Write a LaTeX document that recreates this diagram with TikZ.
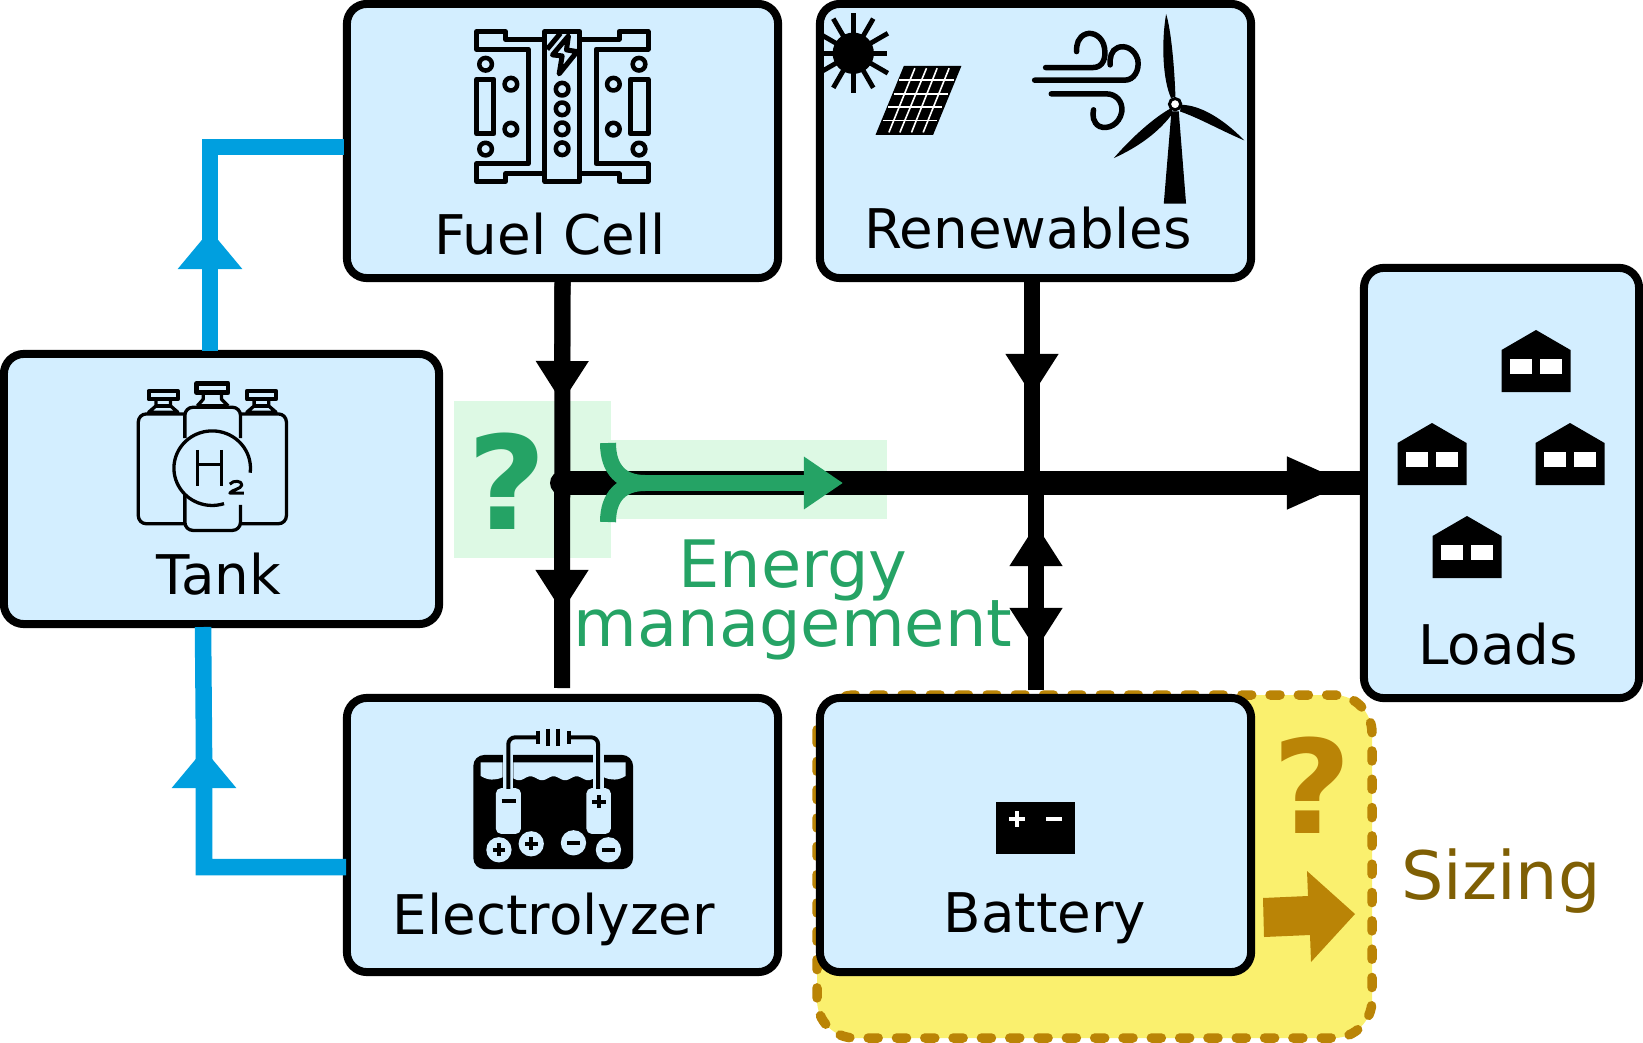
\documentclass[tikz,border=0pt]{standalone}
\usepackage{fontspec}
\setmainfont{DejaVu Sans}
\usetikzlibrary{arrows.meta}
\definecolor{boxblue}{HTML}{D3EEFF}
\definecolor{pipeblue}{HTML}{009FDF}
\definecolor{mgmtgreen}{HTML}{25A365}
\definecolor{mgmtlight}{HTML}{DDF9E4}
\definecolor{sizeyellow}{HTML}{FAF06E}
\definecolor{sizegold}{HTML}{BA8406}
\definecolor{sizebrown}{HTML}{7F5F04}
\tikzset{
    unit/.style={draw=black, line width=0.08cm, fill=boxblue, rounded corners=0.2cm, inner sep=0pt, minimum width=4.31cm, minimum height=2.74cm},
    name label/.style={anchor=base, inner sep=0pt, font=\fontsize{15.55}{17}\selectfont},
    big label/.style={inner sep=0pt, align=center, font=\fontsize{18.6}{17}\selectfont},
    quest/.style={anchor=base, inner sep=0pt, xscale=1.05, font=\fontsize{37}{38}\selectfont\bfseries},
    power/.style={draw=black, line width=0.16cm},
    bus/.style={draw=black, line width=0.24cm},
    pipe/.style={draw=pipeblue, line width=0.165cm},
    power tip/.style={-{Triangle[length=0.42cm, width=0.5cm]}},
    pipe tip/.style={-{Triangle[length=0.39cm, width=0.62cm]}}
}
\begin{document}
\begin{tikzpicture}[x=0.01cm, y=-0.01cm]
    \useasboundingbox (0, 0) rectangle (1643, 1043);

    % Highlights
    \fill[mgmtlight] (454, 401) rectangle (611, 558);
    \fill[mgmtlight] (611, 440) rectangle (887, 519);
    \draw[fill=sizeyellow, draw=sizegold, line width=0.095cm, line cap=round, dash pattern=on 0.1cm off 0.183cm, rounded corners=0.38cm] (817, 695) rectangle (1372, 1038);

    % Units
    \node[unit] (fuelcell) at (562.5, 141) {};
    \node[unit] (renewables) at (1035.5, 141) {};
    \node[unit, minimum width=4.35cm, minimum height=2.7cm] (tank) at (221.5, 489) {};
    \node[unit] (electrolyzer) at (562.5, 835) {};
    \node[unit] (battery) at (1035.5, 835) {};
    \node[unit, minimum width=2.75cm, minimum height=4.3cm] (loads) at (1501.5, 483) {};

    % Free ends of the connectors
    \coordinate (busstart) at (562, 483);
    \coordinate (bustip) at (1349, 483);
    \coordinate (fctip) at (562, 403);
    \coordinate (eltip) at (562, 612);
    \coordinate (elend) at (562, 688);
    \coordinate (retip) at (1032, 396);
    \coordinate (rebus) at (1032, 483);
    \coordinate (babus) at (1036, 483);
    \coordinate (batipa) at (1036, 524);
    \coordinate (batipb) at (1036, 650);
    \coordinate (baend) at (1036, 690);
    \coordinate (tkout) at (210, 351);
    \coordinate (tktip) at (210, 230);
    \coordinate (fcin) at (344, 147);
    \coordinate (tkin) at (203, 627);
    \coordinate (elout) at (346, 867);
    \coordinate (eltipb) at (204, 749);
    \coordinate (gsplit) at (645, 483);
    \coordinate (gtip) at (843, 483);
    \coordinate (gtop) at (608, 443);
    \coordinate (gbot) at (608, 522);

    % Electrical lines
    \draw[power] (fuelcell.south) -- (elend);
    \draw[power, power tip] (fuelcell.south) -- (fctip);
    \draw[power, power tip] (busstart) -- (eltip);
    \draw[power] (renewables.south -| retip) -- (rebus);
    \draw[power, power tip] (renewables.south -| retip) -- (retip);
    \draw[power] (babus) -- (baend);
    \draw[power, power tip] (babus) -- (batipb);
    \draw[power, power tip] (baend) -- (batipa);
    \draw[bus, line cap=round] (busstart) -- ++(20, 0);
    \draw[bus] (busstart) -- (loads.west);
    \draw[bus, -{Triangle[length=0.62cm, width=0.48cm]}] (busstart) -- (bustip);

    % Hydrogen lines
    \draw[pipe] (tkout) |- (fcin);
    \draw[pipe, pipe tip] (tkout) -- (tktip);
    \draw[pipe] (elout) -| (eltipb) -- (tkin);
    \draw[pipe, pipe tip] (elout) -| (eltipb);

    % Energy management arrow
    \draw[draw=mgmtgreen, line width=0.16cm, -{Triangle[length=0.39cm, width=0.5cm]}] (gsplit) -- (gtip);
    \draw[draw=mgmtgreen, line width=0.16cm] (gtop) .. controls (608, 470) and (622, 483) .. (gsplit);
    \draw[draw=mgmtgreen, line width=0.16cm] (gbot) .. controls (608, 496) and (622, 483) .. (gsplit);

    % Sizing arrow
    \fill[sizegold] (1263, 898) -- (1308, 896) -- (1307, 871) -- (1355, 914) -- (1311, 962) -- (1310, 935) -- (1264, 937) -- cycle;

    % Labels
    \node[name label] (fuellabel) at (550, 255) {Fuel Cell};
    \node[name label] (renewlabel) at (1028, 249) {Renewables};
    \node[name label] (tanklabel) at (219, 594) {Tank};
    \node[name label] (elecolabel) at (554, 934) {Electrolyzer};
    \node[name label] (battlabel) at (1045, 932) {Battery};
    \node[name label] (loadslabel) at (1498, 664) {Loads};
    \node[big label, text=mgmtgreen] (mgmtlabel) at (793, 600) {Energy\\management};
    \node[big label, anchor=base, text=sizebrown, font=\fontsize{19}{19}\selectfont] (sizelabel) at (1501, 899) {Sizing};
    \node[quest, text=mgmtgreen] (mgmtquest) at (507, 529) {?};
    \node[quest, text=sizegold] (sizequest) at (1312, 833) {?};

    % Fuel cell icon
    \begin{scope}[shift={(440, 0)}, x=0.00333cm, y=-0.00333cm, line width=0.05cm, line join=round]
        \draw (315, 95) rectangle (420, 545);
        \draw (315, 118) -- (197, 118) -- (197, 95) -- (110, 95) -- (110, 148) -- (265, 148) -- (265, 492) -- (110, 492) -- (110, 545) -- (197, 545) -- (197, 522) -- (315, 522);
        \draw (420, 118) -- (538, 118) -- (538, 95) -- (625, 95) -- (625, 148) -- (469, 148) -- (469, 492) -- (625, 492) -- (625, 545) -- (538, 545) -- (538, 522) -- (420, 522);
        \draw (110, 238) rectangle (162, 402);
        \draw (572, 238) rectangle (625, 402);
        \draw (322, 148) -- (362, 100);
        \draw (386, 108) -- (338, 165) -- (367, 168) -- (358, 222) -- (412, 155) -- (380, 150) -- cycle;
        \foreach \px/\py in {137/193, 213/253, 213/388, 137/448, 598/193, 521/253, 521/388, 598/448, 367/268, 367/327, 367/387, 367/447} {
            \draw[line width=0.045cm] (\px, \py) circle (19);
        }
    \end{scope}

    % Renewables icon
    \begin{scope}[shift={(810, 0)}, x=0.00333cm, y=-0.00333cm]
        \fill (130, 160) circle (62);
        \foreach \a in {30, 60, 90, 120, 150, 210, 240, 270, 300, 330} {
            \draw[line width=0.048cm] ({130+60*cos(\a)}, {160+60*sin(\a)}) -- ({130+120*cos(\a)}, {160+120*sin(\a)});
        }
        \draw[line width=0.048cm] (37, 160) -- (232, 160);
        \fill (282, 198) -- (455, 198) -- (370, 405) -- (197, 405) -- cycle;
        \foreach \gy/\ga/\gb in {241/268/432, 282/252/415, 322/235/398, 362/218/382} {
            \draw[white, line width=0.016cm] (\ga, \gy) -- (\gb, \gy);
        }
        \foreach \gt/\gb in {315/237, 350/270, 382/305, 418/340} {
            \draw[white, line width=0.016cm] (\gt, 205) -- (\gb, 398);
        }
        \draw[line width=0.055cm, line cap=round] (708, 203) -- (850, 203) .. controls (880, 203) and (890, 175) .. (885, 145) .. controls (880, 110) and (850, 95) .. (830, 102) .. controls (805, 110) and (800, 135) .. (801, 155);
        \draw[line width=0.055cm, line cap=round] (675, 241) -- (945, 241) .. controls (975, 241) and (990, 210) .. (985, 180) .. controls (975, 145) and (945, 135) .. (925, 143) .. controls (905, 150) and (900, 175) .. (902, 195);
        \draw[line width=0.055cm, line cap=round] (725, 282) -- (890, 282) .. controls (920, 282) and (940, 305) .. (937, 335) .. controls (930, 375) and (895, 390) .. (870, 380) .. controls (850, 370) and (848, 345) .. (852, 330);
        \fill (1070, 42) .. controls (1055, 130) and (1060, 240) .. (1085, 295) -- (1098, 290) .. controls (1095, 200) and (1085, 90) .. (1070, 42) -- cycle;
        \fill (1115, 315) .. controls (1170, 315) and (1240, 355) .. (1305, 422) .. controls (1230, 390) and (1170, 355) .. (1112, 335) -- cycle;
        \fill (1085, 325) .. controls (1030, 355) and (960, 420) .. (913, 475) .. controls (990, 440) and (1050, 395) .. (1090, 340) -- cycle;
        \fill (1086, 335) -- (1108, 335) -- (1130, 612) -- (1063, 612) -- cycle;
        \draw[fill=white, line width=0.03cm] (1097, 313) circle (17);
    \end{scope}

    % Tank icon
    \begin{scope}[shift={(120, 370)}, x=0.00333cm, y=-0.00333cm, line width=0.033cm, line join=round]
        \draw[rounded corners=0.08cm] (195, 462) -- (55, 462) -- (55, 132) -- (195, 132);
        \draw[rounded corners=0.08cm] (362, 462) -- (500, 462) -- (500, 132) -- (362, 132);
        \draw[rounded corners=0.08cm] (195, 205) -- (195, 112) -- (362, 112) -- (362, 205);
        \draw[rounded corners=0.08cm] (195, 375) -- (195, 482) -- (362, 482) -- (362, 405);
        \draw[smooth, samples=60, domain=-288:7] plot ({277+115*cos(\x)}, {295+112*sin(\x)});
        \draw[line width=0.045cm] (230, 40) rectangle (325, 68);
        \draw (250, 68) -- (250, 88) -- (232, 108);
        \draw (305, 68) -- (305, 88) -- (325, 108);
        \draw (232, 108) -- (325, 108);
        \foreach \cx in {130, 425} {
            \draw[line width=0.04cm] ({\cx-44}, 63) rectangle ({\cx+44}, 88);
            \draw ({\cx-22}, 88) -- ({\cx-22}, 108) -- ({\cx-44}, 127) -- ({\cx+44}, 127) -- ({\cx+22}, 108) -- ({\cx+22}, 88);
            \draw ({\cx-22}, 108) -- ({\cx+22}, 108);
        }
        \draw (232, 240) -- (232, 348);
        \draw (305, 240) -- (305, 348);
        \draw (232, 285) -- (305, 285);
        \draw[line width=0.03cm] (330, 343) .. controls (340, 330) and (368, 332) .. (366, 346) .. controls (364, 358) and (335, 360) .. (330, 370) -- (372, 370);
    \end{scope}

    % Electrolyzer icon
    \begin{scope}[shift={(460, 720)}, x=0.00333cm, y=-0.00333cm]
        \fill[rounded corners=0.11cm] (40, 105) rectangle (520, 448);
        \fill[boxblue] (62, 127) -- (128, 127) -- (128, 172) .. controls (105, 182) and (85, 182) .. (62, 168) -- cycle;
        \fill[boxblue] (432, 127) -- (498, 127) -- (498, 168) .. controls (475, 182) and (455, 182) .. (432, 172) -- cycle;
        \fill[boxblue] (160, 127) -- (400, 127) -- plot[domain=400:160, samples=50] (\x, {175+6*sin(5.2*(\x-160))}) -- cycle;
        \fill[boxblue] (128, 100) rectangle (160, 215);
        \fill[boxblue] (400, 100) rectangle (432, 215);
        \fill[boxblue, rounded corners=0.05cm] (108, 205) rectangle (183, 342);
        \fill[boxblue, rounded corners=0.05cm] (380, 205) rectangle (453, 342);
        \draw[line width=0.04cm, rounded corners=0.07cm] (145, 207) -- (145, 52) -- (235, 52);
        \draw[line width=0.04cm, rounded corners=0.07cm] (415, 207) -- (415, 52) -- (328, 52);
        \draw[line width=0.035cm] (235, 32) -- (235, 72);
        \draw[line width=0.045cm] (264, 26) -- (264, 78);
        \draw[line width=0.045cm] (295, 26) -- (295, 78);
        \draw[line width=0.035cm] (328, 32) -- (328, 72);
        \draw[line width=0.04cm] (125, 243) -- (168, 243);
        \draw[line width=0.04cm] (396, 245) -- (438, 245);
        \draw[line width=0.04cm] (417, 226) -- (417, 264);
        \foreach \ix/\iy in {117/390, 214/372} {
            \fill[boxblue] (\ix, \iy) circle (38);
            \draw[line width=0.04cm] ({\ix-19}, \iy) -- ({\ix+19}, \iy);
            \draw[line width=0.04cm] (\ix, {\iy-19}) -- (\ix, {\iy+19});
        }
        \foreach \ix/\iy in {341/369, 446/390} {
            \fill[boxblue] (\ix, \iy) circle (38);
            \draw[line width=0.04cm] ({\ix-20}, \iy) -- ({\ix+20}, \iy);
        }
    \end{scope}

    % Battery icon
    \fill (996, 802) rectangle (1075, 854);
    \draw[white, line width=0.04cm] (1009, 819) -- (1025, 819);
    \draw[white, line width=0.04cm] (1017, 811) -- (1017, 827);
    \draw[white, line width=0.04cm] (1046, 819) -- (1062, 819);

    % Houses
    \foreach \hx/\hy in {1536/330, 1432/423, 1570/423, 1467/516} {
        \fill (\hx-34.5, \hy+20) -- (\hx, \hy) -- (\hx+34.5, \hy+20) -- (\hx+34.5, \hy+62) -- (\hx-34.5, \hy+62) -- cycle;
        \fill[white] (\hx-26.5, \hy+29) rectangle (\hx-4, \hy+44);
        \fill[white] (\hx+3.5, \hy+29) rectangle (\hx+26, \hy+44);
    }
\end{tikzpicture}
\end{document}
